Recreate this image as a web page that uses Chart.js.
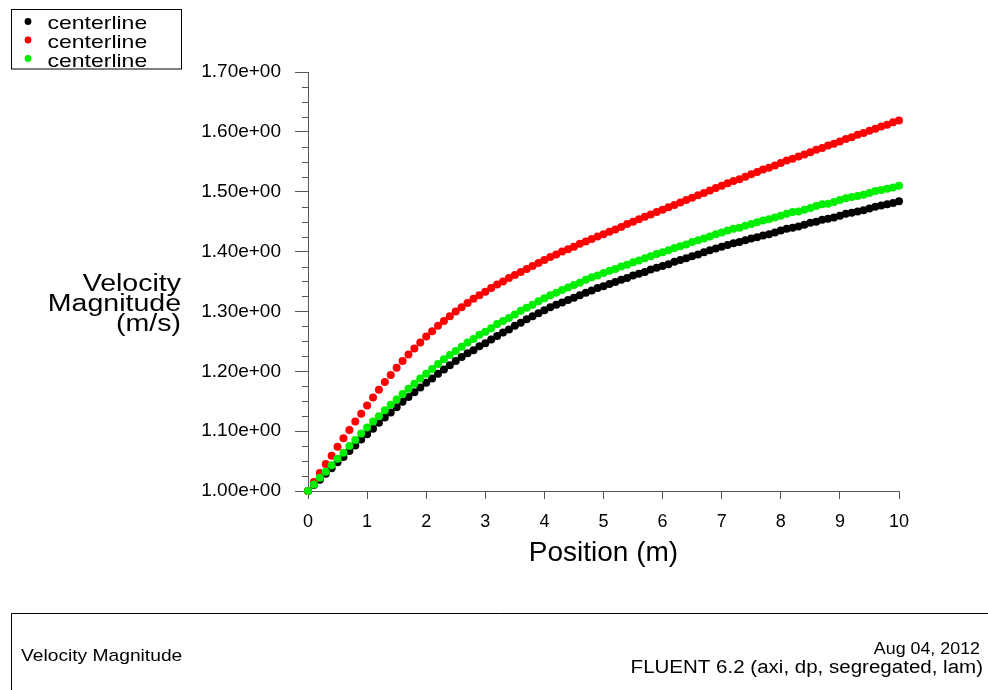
<!DOCTYPE html>
<html><head><meta charset="utf-8">
<script src="https://cdn.jsdelivr.net/npm/chart.js@4/dist/chart.umd.min.js"></script>
<style>html,body{margin:0;padding:0;background:#fff}canvas{display:block}</style>
</head><body>
<canvas id="c" width="988" height="690"></canvas>
<script>
// ---- data ----
const positions = [0,0.1,0.2,0.3,0.4,0.5,0.6,0.7,0.8,0.9,1,1.1,1.2,1.3,1.4,1.5,1.6,1.7,1.8,1.9,2,2.1,2.2,2.3,2.4,2.5,2.6,2.7,2.8,2.9,3,3.1,3.2,3.3,3.4,3.5,3.6,3.7,3.8,3.9,4,4.1,4.2,4.3,4.4,4.5,4.6,4.7,4.8,4.9,5,5.1,5.2,5.3,5.4,5.5,5.6,5.7,5.8,5.9,6,6.1,6.2,6.3,6.4,6.5,6.6,6.7,6.8,6.9,7,7.1,7.2,7.3,7.4,7.5,7.6,7.7,7.8,7.9,8,8.1,8.2,8.3,8.4,8.5,8.6,8.7,8.8,8.9,9,9.1,9.2,9.3,9.4,9.5,9.6,9.7,9.8,9.9,10];
const velocityBlack = [1.000,1.010,1.019,1.029,1.038,1.048,1.057,1.067,1.076,1.086,1.095,1.104,1.114,1.123,1.131,1.140,1.149,1.157,1.165,1.173,1.181,1.188,1.196,1.203,1.210,1.217,1.224,1.230,1.235,1.242,1.247,1.253,1.259,1.265,1.270,1.276,1.281,1.287,1.292,1.297,1.302,1.307,1.311,1.315,1.319,1.323,1.327,1.331,1.335,1.339,1.342,1.346,1.349,1.353,1.356,1.360,1.363,1.366,1.370,1.373,1.376,1.379,1.383,1.386,1.389,1.392,1.395,1.399,1.402,1.405,1.408,1.411,1.414,1.416,1.419,1.422,1.424,1.427,1.429,1.432,1.435,1.438,1.440,1.442,1.445,1.448,1.450,1.453,1.455,1.457,1.460,1.463,1.465,1.467,1.469,1.472,1.475,1.477,1.479,1.481,1.484];
const velocityRed = [1.000,1.015,1.030,1.045,1.059,1.074,1.088,1.102,1.116,1.129,1.143,1.156,1.169,1.182,1.194,1.206,1.217,1.228,1.238,1.248,1.258,1.267,1.276,1.284,1.292,1.300,1.307,1.314,1.321,1.327,1.333,1.339,1.345,1.350,1.356,1.361,1.366,1.371,1.376,1.381,1.386,1.391,1.395,1.400,1.404,1.408,1.413,1.417,1.421,1.425,1.429,1.433,1.437,1.441,1.446,1.450,1.454,1.458,1.462,1.466,1.470,1.474,1.478,1.482,1.486,1.490,1.494,1.498,1.502,1.506,1.510,1.514,1.518,1.521,1.525,1.529,1.533,1.537,1.540,1.544,1.548,1.552,1.555,1.559,1.562,1.566,1.570,1.573,1.577,1.580,1.584,1.588,1.591,1.595,1.598,1.602,1.605,1.609,1.612,1.616,1.619];
const velocityGreen = [1.000,1.011,1.022,1.032,1.043,1.054,1.064,1.075,1.085,1.096,1.106,1.116,1.125,1.135,1.144,1.153,1.162,1.171,1.179,1.188,1.196,1.204,1.212,1.220,1.227,1.234,1.241,1.248,1.254,1.261,1.266,1.272,1.279,1.284,1.289,1.295,1.301,1.306,1.311,1.317,1.322,1.327,1.331,1.336,1.340,1.344,1.348,1.353,1.357,1.360,1.364,1.368,1.371,1.375,1.378,1.382,1.385,1.389,1.392,1.396,1.399,1.402,1.406,1.409,1.412,1.416,1.419,1.422,1.425,1.429,1.432,1.435,1.438,1.440,1.443,1.446,1.449,1.452,1.454,1.457,1.460,1.463,1.466,1.467,1.470,1.473,1.476,1.479,1.480,1.483,1.486,1.489,1.491,1.493,1.495,1.498,1.501,1.503,1.505,1.507,1.510];
const seriesNames = ['centerline', 'centerline', 'centerline'];
const xTickValues = [0,1,2,3,4,5,6,7,8,9,10];
const yTickValues = [1.0,1.1,1.2,1.3,1.4,1.5,1.6,1.7];
const yTitleLines = ['Velocity', 'Magnitude', '(m/s)'];
const xTitle = 'Position (m)';
const footerLeft = 'Velocity Magnitude';
const footerRight = ['Aug 04, 2012', 'FLUENT 6.2 (axi, dp, segregated, lam)'];

// ---- styles ----
const colors = ['#000000', '#ff0000', '#00ee00'];
const FONT = "'Liberation Sans', Arial, sans-serif";
const AXIS_COLOR = '#555';
const MINOR_STEP = 0.025;

function toPoints(ys) { return positions.map((x, i) => ({ x: x, y: ys[i] })); }

const seriesValues = [velocityBlack, velocityRed, velocityGreen];
const datasets = seriesValues.map((ys, i) => ({
  label: seriesNames[i],
  data: toPoints(ys),
  backgroundColor: colors[i],
  borderColor: colors[i],
  pointRadius: 4,
  pointBorderWidth: 0,
  showLine: false,
  clip: false,
  order: [3, 2, 1][i]
}));

function stretchedText(ctx, text, x, y, align, font, sx) {
  ctx.save();
  ctx.font = font;
  ctx.textAlign = align;
  ctx.textBaseline = 'alphabetic';
  ctx.translate(x, y);
  ctx.scale(sx, 1);
  ctx.fillText(text, 0, 0);
  ctx.restore();
}

const decorPlugin = {
  id: 'decor',
  afterDraw(chart) {
    const ctx = chart.ctx;
    const ys = chart.scales.y, xs = chart.scales.x;
    const left = chart.chartArea.left;
    // minor y ticks
    ctx.save();
    ctx.strokeStyle = AXIS_COLOR;
    ctx.lineWidth = 1;
    ctx.beginPath();
    for (let k = 0; ; k++) {
      const v = ys.min + k * MINOR_STEP;
      if (v > ys.max + 1e-9) break;
      if (k % 4 === 0) continue;
      const py = Math.round(ys.getPixelForValue(v)) + 0.5;
      ctx.moveTo(left - 6, py);
      ctx.lineTo(left, py);
    }
    ctx.stroke();
    ctx.restore();

    ctx.fillStyle = '#000';
    // y title
    const yLineBase = [291, 311, 331];
    yTitleLines.forEach((t, i) => stretchedText(ctx, t, 181, yLineBase[i], 'right', '23px ' + FONT, 1.24));
    // x title
    const cx = (xs.left + xs.right) / 2;
    stretchedText(ctx, xTitle, cx, 561, 'center', '28px ' + FONT, 1.0);

    // legend
    ctx.save();
    ctx.strokeStyle = '#000';
    ctx.lineWidth = 1;
    ctx.strokeRect(11.5, 9.5, 170, 59.5);
    ctx.beginPath();
    ctx.rect(12, 10, 169, 58.5);
    ctx.clip();
    const legY = [21.5, 40, 58.5];
    const legBase = [28.5, 47.5, 67];
    datasets.forEach((d, i) => {
      ctx.fillStyle = colors[i];
      ctx.beginPath();
      ctx.arc(28, legY[i], 3.4, 0, Math.PI * 2);
      ctx.fill();
      ctx.fillStyle = '#000';
      stretchedText(ctx, d.label, 47.5, legBase[i], 'left', '19px ' + FONT, 1.21);
    });
    ctx.restore();

    // footer box
    ctx.save();
    ctx.strokeStyle = '#000';
    ctx.lineWidth = 1;
    ctx.beginPath();
    ctx.moveTo(11.5, 690);
    ctx.lineTo(11.5, 613.5);
    ctx.lineTo(988, 613.5);
    ctx.stroke();
    ctx.restore();
    ctx.fillStyle = '#000';
    stretchedText(ctx, footerLeft, 21, 661, 'left', '17px ' + FONT, 1.13);
    stretchedText(ctx, footerRight[0], 980, 654, 'right', '17px ' + FONT, 1.05);
    stretchedText(ctx, footerRight[1], 983, 673, 'right', '18px ' + FONT, 1.14);
  }
};

new Chart(document.getElementById('c'), {
  type: 'scatter',
  data: { datasets: datasets },
  options: {
    responsive: false,
    animation: false,
    devicePixelRatio: 1,
    layout: { padding: { left: 0, top: 72, right: 89, bottom: 0 } },
    plugins: { legend: { display: false }, tooltip: { enabled: false } },
    scales: {
      x: {
        type: 'linear', min: 0, max: 10,
        afterBuildTicks: s => { s.ticks = xTickValues.map(v => ({ value: v })); },
        afterFit: s => { s.height = 199; },
        grid: { drawOnChartArea: false, drawTicks: true, tickLength: 8, color: AXIS_COLOR, tickColor: AXIS_COLOR },
        border: { display: true, color: AXIS_COLOR, width: 1 },
        ticks: { color: '#000', font: { family: FONT, size: 18 }, padding: 12, maxRotation: 0, autoSkip: false, callback: v => String(v) }
      },
      y: {
        type: 'linear', min: 1.0, max: 1.7,
        afterBuildTicks: s => { s.ticks = yTickValues.map(v => ({ value: v })); },
        afterFit: s => { s.width = 308; },
        grid: { drawOnChartArea: false, drawTicks: true, tickLength: 13, color: AXIS_COLOR, tickColor: AXIS_COLOR },
        border: { display: true, color: AXIS_COLOR, width: 1 },
        ticks: { color: '#000', font: { family: FONT, size: 19 }, padding: 14, autoSkip: false, callback: v => Number(v).toFixed(2) + 'e+00' }
      }
    }
  },
  plugins: [decorPlugin]
});
</script>
</body></html>
